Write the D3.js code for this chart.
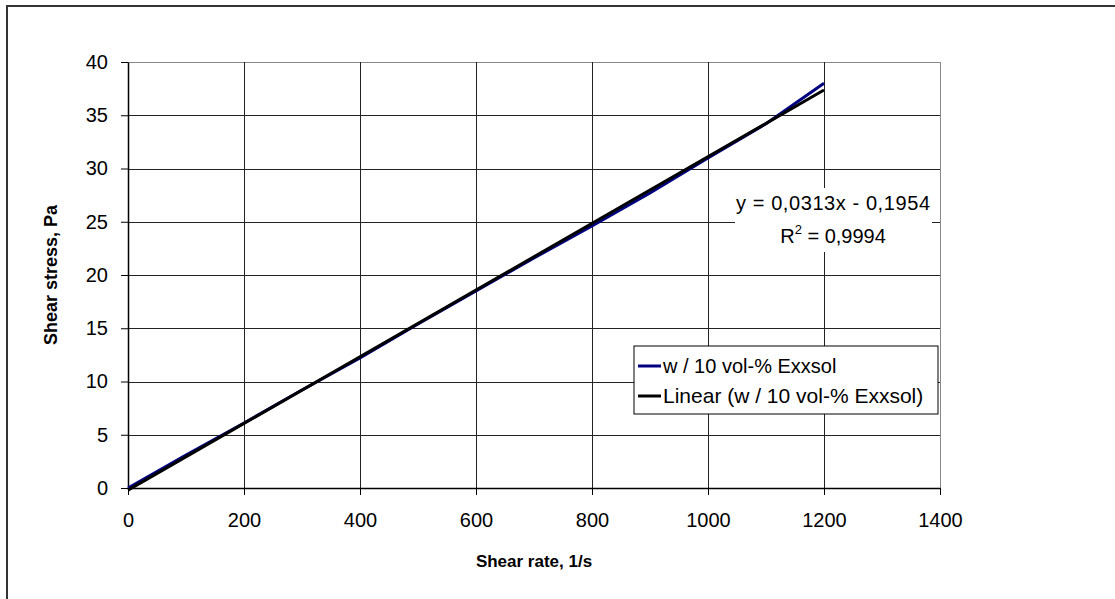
<!DOCTYPE html>
<html lang="en">
<head>
    <meta charset="UTF-8">
    <title>Shear stress vs shear rate</title>
    <script src="https://d3js.org/d3.v7.min.js"></script>
    <style>
        body { margin: 0; background: #fff; }
        text { font-family: "Liberation Sans", Arial, sans-serif; }
    </style>
</head>
<body>
    <div id="myGraph"></div>

    <script type="text/javascript">

        // measured points (shear rate 1/s, shear stress Pa)
        let shearRate = [0, 100, 200, 300, 400, 500, 600, 700, 800, 900, 1000, 1100, 1200];
        let shearStress = [0, 3.1, 6.1, 9.2, 12.2, 15.4, 18.5, 21.6, 24.6, 27.7, 31.0, 34.2, 38.0];
        // linear trendline from the chart
        let slope = 0.0313;
        let intercept = -0.1954;
        let trendX = [0, 1200];
        let xTicks = [0, 200, 400, 600, 800, 1000, 1200, 1400];
        let yTicks = [0, 5, 10, 15, 20, 25, 30, 35, 40];
        let legendLabels = ["w / 10 vol-% Exxsol", "Linear (w / 10 vol-% Exxsol)"];
        let eqText = "y = 0,0313x - 0,1954";
        let r2Value = "0,9994";

        let W = 1115, H = 599;
        let margin = { left: 128, right: 175, top: 62, bottom: 111 };
        let width = W - margin.left - margin.right,
            height = H - margin.top - margin.bottom;

        let svg = d3.select("#myGraph").append("svg")
            .attr("width", W)
            .attr("height", H);

        // outer frame (runs off the right/bottom edge)
        svg.append("rect")
            .attr("x", 7).attr("y", 6)
            .attr("width", W + 10).attr("height", H + 10)
            .attr("fill", "none")
            .attr("stroke", "#333")
            .attr("stroke-width", 2);

        let g = svg.append("g")
            .attr("transform", "translate(" + margin.left + "," + margin.top + ")");

        let x = d3.scaleLinear().domain([0, 1400]).range([0, width]);
        let y = d3.scaleLinear().domain([0, 40]).range([height, 0]);

        // grid
        g.selectAll(".hgrid").data(yTicks.filter(d => d > 0)).enter()
            .append("line")
            .attr("x1", 0).attr("x2", width)
            .attr("y1", d => Math.round(y(d)) + 0.5).attr("y2", d => Math.round(y(d)) + 0.5)
            .attr("stroke", d => d == 40 ? "#888" : "#222")
            .attr("stroke-width", 1);
        g.selectAll(".vgrid").data(xTicks.filter(d => d > 0)).enter()
            .append("line")
            .attr("y1", 0).attr("y2", height)
            .attr("x1", d => Math.round(x(d)) + 0.5).attr("x2", d => Math.round(x(d)) + 0.5)
            .attr("stroke", d => d == 1400 ? "#888" : "#222")
            .attr("stroke-width", 1);

        // axes
        let xAxis = g.append("g")
            .attr("transform", "translate(0," + height + ")")
            .call(d3.axisBottom(x).tickValues(xTicks).tickFormat(d3.format("d"))
                .tickSize(7).tickSizeOuter(0).tickPadding(18));
        let yAxis = g.append("g")
            .call(d3.axisLeft(y).tickValues(yTicks).tickFormat(d3.format("d"))
                .tickSize(7).tickSizeOuter(0).tickPadding(13));
        [xAxis, yAxis].forEach(a => {
            a.selectAll("text").style("font-size", "20px").attr("fill", "#000");
            a.selectAll("line").attr("stroke", "#000");
            a.select(".domain").attr("stroke", "#000").attr("stroke-width", 1.5);
        });

        // measured series
        let line = d3.line().x(d => x(d[0])).y(d => y(d[1]));
        g.append("path")
            .datum(d3.zip(shearRate, shearStress))
            .attr("d", line)
            .attr("fill", "none")
            .attr("stroke", "#000080")
            .attr("stroke-width", 3);

        // trendline
        g.append("path")
            .datum(trendX.map(v => [v, slope * v + intercept]))
            .attr("d", line)
            .attr("fill", "none")
            .attr("stroke", "#000")
            .attr("stroke-width", 3);

        // equation label
        svg.append("rect")
            .attr("x", 735).attr("y", 188).attr("width", 197).attr("height", 64)
            .attr("fill", "#fff");
        let eq = svg.append("g").style("font-size", "20px");
        eq.append("text").attr("x", 833).attr("y", 210)
            .attr("text-anchor", "middle").attr("textLength", 194).text(eqText);
        let r2 = eq.append("text").attr("x", 833).attr("y", 243).attr("text-anchor", "middle");
        r2.append("tspan").text("R");
        r2.append("tspan").attr("dy", -9).style("font-size", "13px").text("2");
        r2.append("tspan").attr("dy", 9).text(" = " + r2Value);

        // legend
        let lg = svg.append("g").attr("transform", "translate(634,346)");
        lg.append("rect")
            .attr("width", 304).attr("height", 68)
            .attr("fill", "#fff").attr("stroke", "#000").attr("stroke-width", 1);
        let colors = ["#000080", "#000"];
        legendLabels.forEach((lab, i) => {
            let yy = 20 + i * 30;
            lg.append("line")
                .attr("x1", 4).attr("x2", 27).attr("y1", yy).attr("y2", yy)
                .attr("stroke", colors[i]).attr("stroke-width", 3);
            lg.append("text")
                .attr("x", 29).attr("y", yy + 7)
                .style("font-size", i == 1 ? "21px" : "20px")
                .text(lab);
        });

        // axis titles
        svg.append("text")
            .attr("x", margin.left + width / 2).attr("y", 567)
            .attr("text-anchor", "middle")
            .style("font-size", "17px").style("font-weight", "bold")
            .text("Shear rate, 1/s");
        svg.append("text")
            .attr("transform", "translate(57," + (margin.top + height / 2) + ") rotate(-90)")
            .attr("text-anchor", "middle")
            .style("font-size", "18px").style("font-weight", "bold")
            .text("Shear stress, Pa");
    </script>
</body>
</html>
